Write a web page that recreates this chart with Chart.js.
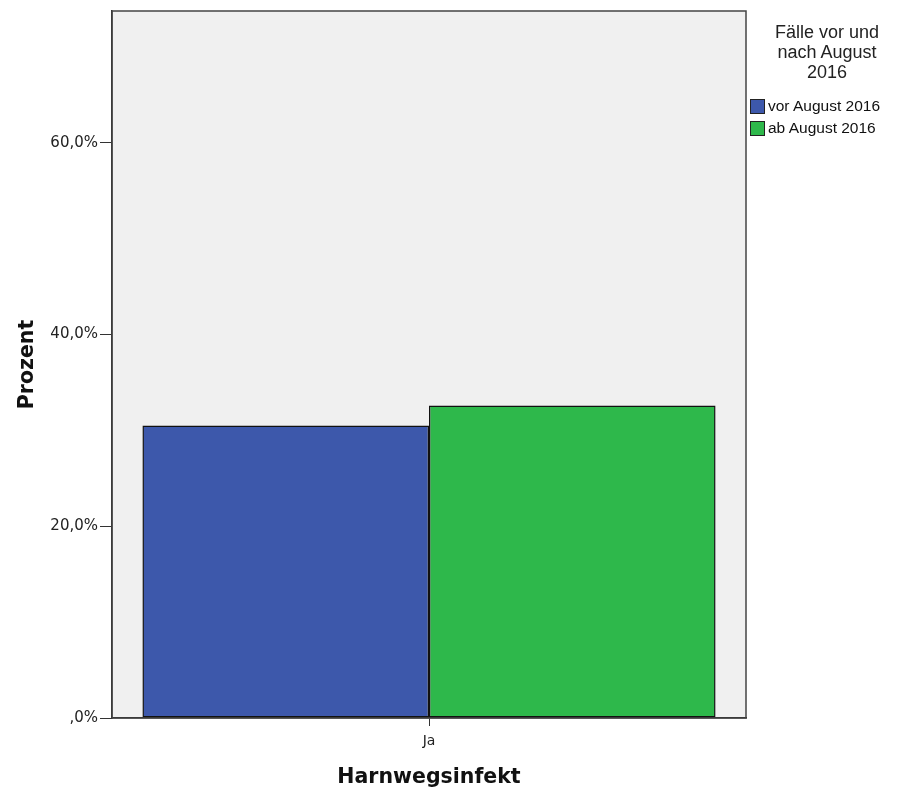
<!DOCTYPE html>
<html>
<head>
<meta charset="utf-8">
<script src="https://cdn.jsdelivr.net/npm/chart.js@4"></script>
<style>
  html, body { margin: 0; padding: 0; background: #fff; }
  #wrap { position: relative; width: 907px; height: 796px; }
  #legend { position: absolute; left: 750px; top: 22px; width: 148px; font-family: "Liberation Sans", Arial, sans-serif; color: #111; }
  #legend .title { text-align: center; font-size: 18px; line-height: 20px; margin-bottom: 13px; padding-left: 6px; color: #222; }
  #legend .item { display: flex; align-items: center; font-size: 15.5px; height: 22px; }
  #legend .box { width: 13px; height: 13px; border: 1px solid #222; margin-right: 3px; }
</style>
</head>
<body>
<div id="wrap">
  <canvas id="chart" width="907" height="796"></canvas>
  <div id="legend"></div>
</div>
<script>
const categories = ['Ja'];
const seriesLabels = ['vor August 2016', 'ab August 2016'];
const vorValues = [30.5];
const abValues = [32.6];
const yTicks = [0, 20, 40, 60];
const legendTitle = ['Fälle vor und', 'nach August', '2016'];

const colors = ['#3d58ab', '#2eb84b'];
const font = '"DejaVu Sans", Verdana, sans-serif';

function fmtPct(v) {
  if (v === 0) return ',0%';
  return v.toFixed(1).replace('.', ',') + '%';
}

const plotFrame = {
  id: 'plotFrame',
  beforeDraw(chart) {
    const { ctx, chartArea: a } = chart;
    ctx.save();
    ctx.fillStyle = '#f0f0f0';
    ctx.fillRect(a.left, a.top, a.right - a.left, a.bottom - a.top);
    ctx.restore();
  },
  afterDraw(chart) {
    const { ctx, chartArea: a } = chart;
    ctx.save();
    ctx.strokeStyle = '#444';
    ctx.lineWidth = 1.5;
    ctx.strokeRect(a.left, a.top, a.right - a.left, a.bottom - a.top);
    ctx.restore();
  }
};

new Chart(document.getElementById('chart'), {
  type: 'bar',
  data: {
    labels: categories,
    datasets: [
      { label: seriesLabels[0], data: vorValues, backgroundColor: colors[0], borderColor: '#111', borderWidth: 1.5, borderSkipped: false },
      { label: seriesLabels[1], data: abValues, backgroundColor: colors[1], borderColor: '#111', borderWidth: 1.5, borderSkipped: false }
    ]
  },
  options: {
    responsive: false,
    animation: false,
    layout: { padding: { top: 10, right: 161, left: 0, bottom: 0 } },
    datasets: { bar: { categoryPercentage: 0.904, barPercentage: 1 } },
    plugins: { legend: { display: false }, tooltip: { enabled: false } },
    scales: {
      x: {
        grid: { drawOnChartArea: false, drawTicks: true, tickLength: 8, color: '#333', offset: false },
        border: { display: true, color: '#222', width: 1.5 },
        ticks: { color: '#222', font: { family: font, size: 14 }, padding: 7 },
        title: { display: true, text: 'Harnwegsinfekt', color: '#111', font: { family: font, size: 20.5, weight: 'bold' }, padding: { top: 14, bottom: 6 } },
        afterFit(s) { s.height = 78; }
      },
      y: {
        min: 0,
        max: 73.75,
        afterBuildTicks(s) { s.ticks = yTicks.map(v => ({ value: v })); },
        grid: { drawOnChartArea: false, drawTicks: true, tickLength: 12, color: '#333' },
        border: { display: true, color: '#222', width: 1.5 },
        ticks: { color: '#222', font: { family: font, size: 15 }, padding: 2, callback: v => fmtPct(v) },
        title: { display: true, text: 'Prozent', color: '#111', font: { family: font, size: 20.5, weight: 'bold' }, padding: { top: 15, bottom: 0 } },
        afterFit(s) { s.width = 112; }
      }
    }
  },
  plugins: [plotFrame]
});

const legend = document.getElementById('legend');
const t = document.createElement('div');
t.className = 'title';
t.innerHTML = legendTitle.join('<br>');
legend.appendChild(t);
seriesLabels.forEach((lab, i) => {
  const row = document.createElement('div');
  row.className = 'item';
  const box = document.createElement('span');
  box.className = 'box';
  box.style.background = colors[i];
  const txt = document.createElement('span');
  txt.textContent = lab;
  row.appendChild(box);
  row.appendChild(txt);
  legend.appendChild(row);
});
</script>
</body>
</html>
